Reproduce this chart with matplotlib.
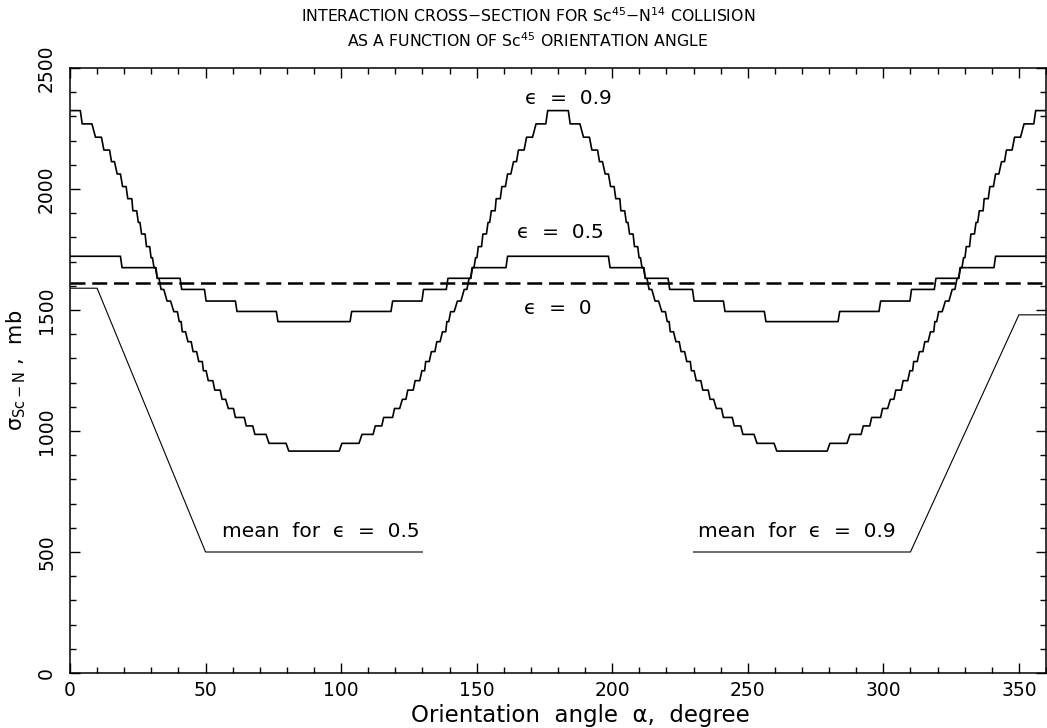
import matplotlib.pyplot as plt
from matplotlib.ticker import MultipleLocator
import numpy as np

# step levels of sigma (mb) over the first quarter period, 0..90 degrees
# each flat runs from *_from to *_to at the given level
eps09_levels = [2324, 2269, 2214, 2161, 2113, 2062, 2010, 1960, 1910, 1862,
                1814, 1762, 1716, 1675, 1631, 1585, 1537, 1493, 1452, 1410,
                1369, 1328, 1287, 1249, 1208, 1169, 1131, 1093, 1056, 1021,
                986, 949, 917]
eps09_from = [0, 4.5, 9.4, 12.5, 15.3, 17.4, 19.4, 21.3, 23.2, 25.2,
              26.4, 28.2, 29.9, 31.0, 32.2, 33.6, 35.8, 38.3, 40.3, 41.4,
              43.5, 45.4, 47.5, 49.2, 51.0, 53.4, 56.1, 58.4, 61.0, 65.0,
              68.2, 73.4, 80.7]
eps09_to = [3.8, 8.1, 11.6, 14.6, 16.4, 18.6, 20.7, 22.8, 24.6, 25.8,
            27.7, 29.4, 30.4, 31.5, 32.8, 34.6, 37.1, 39.6, 41.0, 42.6,
            44.7, 46.7, 48.8, 50.2, 52.7, 55.4, 57.4, 60.3, 64.3, 67.4,
            72.3, 79.7, 90]

eps05_levels = [1722, 1675, 1631, 1585, 1537, 1494, 1452]
eps05_from = [0, 19.2, 32.2, 41.2, 50.2, 61.6, 76.7]
eps05_to = [18.6, 31.7, 40.6, 49.6, 61.0, 76.1, 90]

eps0_level = 1610

# pointer lines to the mean values
mean05_x = [0, 10, 50, 130]
mean05_y = [1590, 1590, 500, 500]
mean09_x = [230, 310, 350, 360]
mean09_y = [500, 500, 1480, 1480]


def full_curve(x_from, x_to, levels):
    qx, qy = [], []
    for a, b, v in zip(x_from, x_to, levels):
        qx += [a, b]
        qy += [v, v]
    qx = np.array(qx)
    qy = np.array(qy)
    # symmetric about 90, period 180
    hx = np.concatenate([qx, 180 - qx[::-1]])
    hy = np.concatenate([qy, qy[::-1]])
    return np.concatenate([hx, 180 + hx]), np.concatenate([hy, hy])


plt.rcParams['font.family'] = ['DejaVu Sans']
fig = plt.figure(figsize=(10.47, 7.28), dpi=100)
ax = fig.add_axes([70/1047, 1-673/728, 976/1047, (673-68)/728])

x9, y9 = full_curve(eps09_from, eps09_to, eps09_levels)
x5, y5 = full_curve(eps05_from, eps05_to, eps05_levels)
ax.plot(x9, y9, 'k-', linewidth=1.2)
ax.plot(x5, y5, 'k-', linewidth=1.2)
ax.axhline(eps0_level, color='k', linewidth=1.8, dashes=(6, 2.7))
ax.plot(mean05_x, mean05_y, 'k-', linewidth=0.8)
ax.plot(mean09_x, mean09_y, 'k-', linewidth=0.8)

fs = 14.5
ax.text(184, 2376, 'ϵ  =  0.9', ha='center', va='center', fontsize=fs)
ax.text(181, 1822, 'ϵ  =  0.5', ha='center', va='center', fontsize=fs)
ax.text(180, 1508, 'ϵ  =  0', ha='center', va='center', fontsize=fs)
ax.text(92.5, 583, 'mean  for  ϵ  =  0.5', ha='center', va='center', fontsize=fs)
ax.text(268, 583, 'mean  for  ϵ  =  0.9', ha='center', va='center', fontsize=fs)

ax.set_xlim(0, 360)
ax.set_ylim(0, 2500)
ax.xaxis.set_major_locator(MultipleLocator(50))
ax.xaxis.set_minor_locator(MultipleLocator(10))
ax.yaxis.set_major_locator(MultipleLocator(500))
ax.yaxis.set_minor_locator(MultipleLocator(100))
ax.tick_params(which='both', direction='in', top=True, right=True, width=1.0)
ax.tick_params(which='major', length=7)
ax.tick_params(which='minor', length=4)
ax.tick_params(axis='x', labelsize=13.5, pad=6)
ax.tick_params(axis='y', labelsize=13.5, pad=10, labelrotation=90)
for lab in ax.get_yticklabels():
    lab.set_va('center')
for s in ax.spines.values():
    s.set_linewidth(1.1)

ax.set_xlabel('Orientation  angle  α,  degree', fontsize=16.5, labelpad=0)
ax.xaxis.set_label_coords(0.523, -0.052)
ax.set_ylabel(r'σ$_{\mathregular{Sc-N}}$ ,  mb', fontsize=15)
ax.yaxis.set_label_coords(-0.043, 0.5)

fig.text(0.504, 0.978, r'INTERACTION CROSS$-$SECTION FOR Sc$^{\mathregular{45}}$$-$N$^{\mathregular{14}}$ COLLISION',
         ha='center', va='center', fontsize=11.3)
fig.text(0.504, 0.944, r'AS A FUNCTION OF Sc$^{\mathregular{45}}$ ORIENTATION ANGLE',
         ha='center', va='center', fontsize=11.3)

fig.savefig('out.png', dpi=100)
